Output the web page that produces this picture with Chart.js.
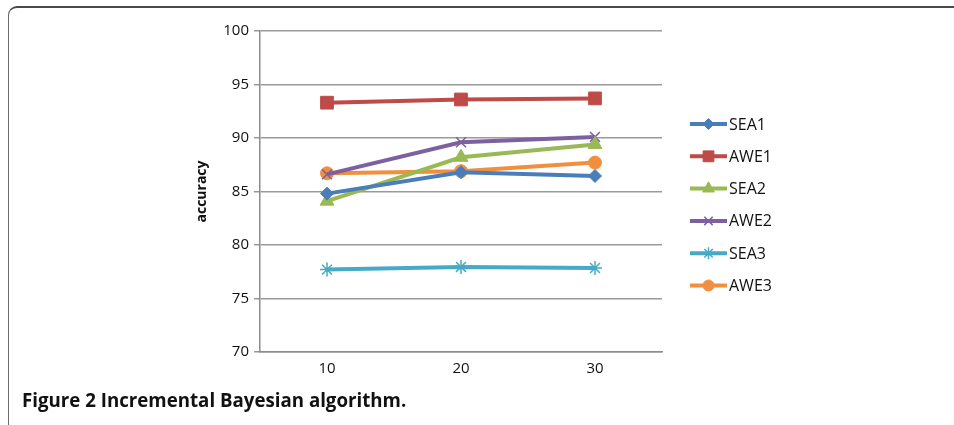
<!DOCTYPE html>
<html>
<head>
<meta charset="utf-8">
<script src="https://cdn.jsdelivr.net/npm/chart.js@4"></script>
<style>
  html, body { margin: 0; padding: 0; background: #fff; }
  #wrap { position: relative; width: 954px; height: 425px; overflow: hidden; }
  #frame {
    position: absolute; left: 8px; top: 6px; width: 1000px; height: 440px;
    border-top: 2px solid #4a4a4a; border-left: 1px solid #6a6a6a;
    border-top-left-radius: 9px; box-sizing: border-box;
  }
  #chart { position: absolute; left: 0; top: 0; }
  #caption {
    position: absolute; left: 22px; top: 387px;
    font-family: "Open Sans", sans-serif;
    font-weight: bold; font-size: 18.7px; color: #111;
  }
</style>
</head>
<body>
<div id="wrap">
  <div id="frame"></div>
  <canvas id="chart" width="954" height="425"></canvas>
  <div id="caption">Figure 2 Incremental Bayesian algorithm.</div>
</div>
<script>
const categories = ["10", "20", "30"];
const seriesNames = ["SEA1", "AWE1", "SEA2", "AWE2", "SEA3", "AWE3"];
const sea1 = [84.8, 86.8, 86.45];
const awe1 = [93.3, 93.6, 93.7];
const sea2 = [84.1, 88.2, 89.4];
const awe2 = [86.6, 89.6, 90.1];
const sea3 = [77.7, 77.95, 77.85];
const awe3 = [86.7, 86.9, 87.7];
const yTicks = [70, 75, 80, 85, 90, 95, 100];

const colors = ["#4A7EBB", "#BE4B48", "#98B954", "#7D60A0", "#46AAC5", "#F0903F"];
const markers = ["rectRot", "rect", "triangle", "crossRot", "star", "circle"];
const markerSizes = [6.5, 9, 8, 7, 7, 6.5];
const values = [sea1, awe1, sea2, awe2, sea3, awe3];

function markerBorder(i) {
  return (markers[i] === "crossRot" || markers[i] === "star") ? 1.5 : 1;
}

const datasets = seriesNames.map((name, i) => ({
  label: name,
  data: values[i],
  borderColor: colors[i],
  backgroundColor: colors[i],
  borderWidth: 4,
  pointStyle: markers[i],
  pointRadius: markerSizes[i],
  pointBorderWidth: markerBorder(i),
  pointBorderColor: colors[i],
  pointBackgroundColor: colors[i],
  tension: 0,
}));

// legend drawn by hand: a short line with the marker in the middle
const sideLegend = {
  id: "sideLegend",
  afterDraw(chart) {
    const ctx = chart.ctx;
    const x0 = chart.chartArea.right + 28;
    const y0 = 124;
    const gap = 32.3;
    ctx.save();
    seriesNames.forEach((name, i) => {
      const y = y0 + i * gap;
      ctx.strokeStyle = colors[i];
      ctx.lineWidth = 4;
      ctx.beginPath();
      ctx.moveTo(x0, y);
      ctx.lineTo(x0 + 37, y);
      ctx.stroke();
      ctx.fillStyle = colors[i];
      ctx.lineWidth = markerBorder(i);
      Chart.helpers.drawPoint(ctx, {
        pointStyle: markers[i],
        radius: markerSizes[i] * 0.85,
        rotation: 0,
        borderWidth: markerBorder(i),
      }, x0 + 18.5, y);
      ctx.fillStyle = "#111";
      ctx.font = "16px 'Open Sans', sans-serif";
      ctx.textBaseline = "middle";
      ctx.fillText(name, x0 + 39, y + 1);
    });
    ctx.restore();
  },
};

new Chart(document.getElementById("chart"), {
  type: "line",
  data: { labels: categories, datasets: datasets },
  plugins: [sideLegend],
  options: {
    responsive: false,
    animation: false,
    layout: { padding: { left: 180, right: 292, top: 31, bottom: 43 } },
    plugins: { legend: { display: false }, tooltip: { enabled: false } },
    scales: {
      x: {
        type: "category",
        offset: true,
        grid: { display: false, drawTicks: false },
        border: { display: true, color: "#8c8c8c", width: 1.5 },
        ticks: {
          color: "#111",
          font: { family: "'Open Sans', sans-serif", size: 15 },
          padding: 8,
        },
        afterFit(scale) { scale.height = 30; },
      },
      y: {
        min: 70,
        max: 100,
        afterBuildTicks(scale) { scale.ticks = yTicks.map(v => ({ value: v })); },
        grid: { color: "#9a9a9a", lineWidth: 1.5, tickLength: 6 },
        border: { display: true, color: "#8c8c8c", width: 1.5 },
        ticks: {
          color: "#111",
          font: { family: "'Open Sans', sans-serif", size: 15 },
          padding: 5,
        },
        title: {
          display: true,
          text: "accuracy",
          color: "#111",
          font: { family: "'Open Sans', sans-serif", size: 14, weight: "bold" },
          padding: { top: 14, bottom: 0 },
        },
        afterFit(scale) { scale.width = 80; },
      },
    },
  },
});
</script>
</body>
</html>
